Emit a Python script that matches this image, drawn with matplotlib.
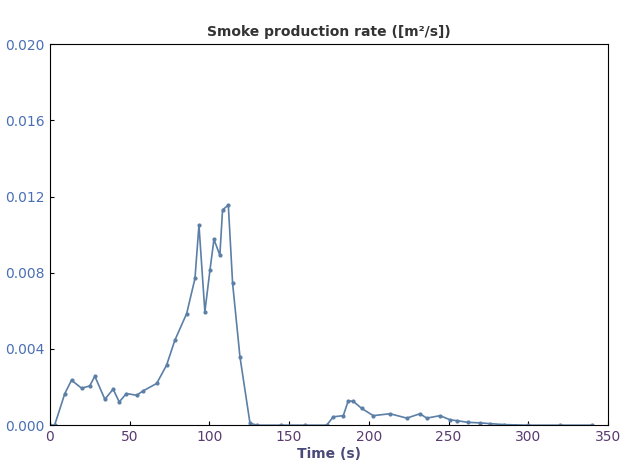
import numpy as np
import matplotlib.pyplot as plt

# smoke production rate
time = [0, 3, 9.4, 13.6, 19.9, 25, 28.2, 34.5, 39.7, 43.5, 48, 54.4, 58.5, 67, 73.2,
        78.4, 85.8, 91, 93.5, 97.2, 100.4, 102.9, 106.6, 108.3, 111.9, 114.6, 119.2,
        125.5, 130, 145, 160, 173.6, 177.7, 184, 187.1, 190.3, 195.5, 202.8, 213.3,
        223.8, 232.1, 236.3, 244.7, 251, 255, 262, 270, 276, 285, 300, 320, 340]
rate = [0, 0, 0.00166, 0.00236, 0.00194, 0.00206, 0.00257, 0.00136, 0.00189, 0.00122,
        0.00166, 0.00157, 0.0018, 0.00219, 0.00315, 0.00446, 0.00586, 0.0077, 0.0105,
        0.00595, 0.00814, 0.00975, 0.00892, 0.0113, 0.01155, 0.00744, 0.00359, 0.0001,
        0, 0, 0, 0, 0.00044, 0.0005, 0.00128, 0.00125, 0.00088, 0.0005, 0.0006, 0.00037,
        0.0006, 0.00037, 0.0005, 0.00028, 0.00024, 0.00015, 0.00012, 0.00008, 0.00003,
        0, 0, 0]

fig = plt.figure(figsize=(6.23, 4.74), dpi=100)
ax = fig.add_axes([0.080, 0.103, 0.896, 0.804])
ax.plot(time, rate, color='#5b7fa6', lw=1.2, marker='o', ms=2)

ax.set_xlim(0, 350)
ax.set_ylim(0, 0.020)
ax.set_xticks(np.arange(0, 351, 50))
ax.set_yticks(np.arange(0, 0.0201, 0.004))
ax.set_yticklabels(['%.3f' % v for v in np.arange(0, 0.0201, 0.004)], color='#4a6fb5')
ax.tick_params(direction='in', length=3, labelsize=10)
for t in ax.get_xticklabels():
    t.set_color('#5a3a70')
ax.set_title('Smoke production rate ([m²/s])', fontsize=10, fontweight='bold', color='#333333')
ax.set_xlabel('Time (s)', fontsize=10, fontweight='bold', color='#4a4a7a', labelpad=2)

fig.savefig('out.png', dpi=100)
